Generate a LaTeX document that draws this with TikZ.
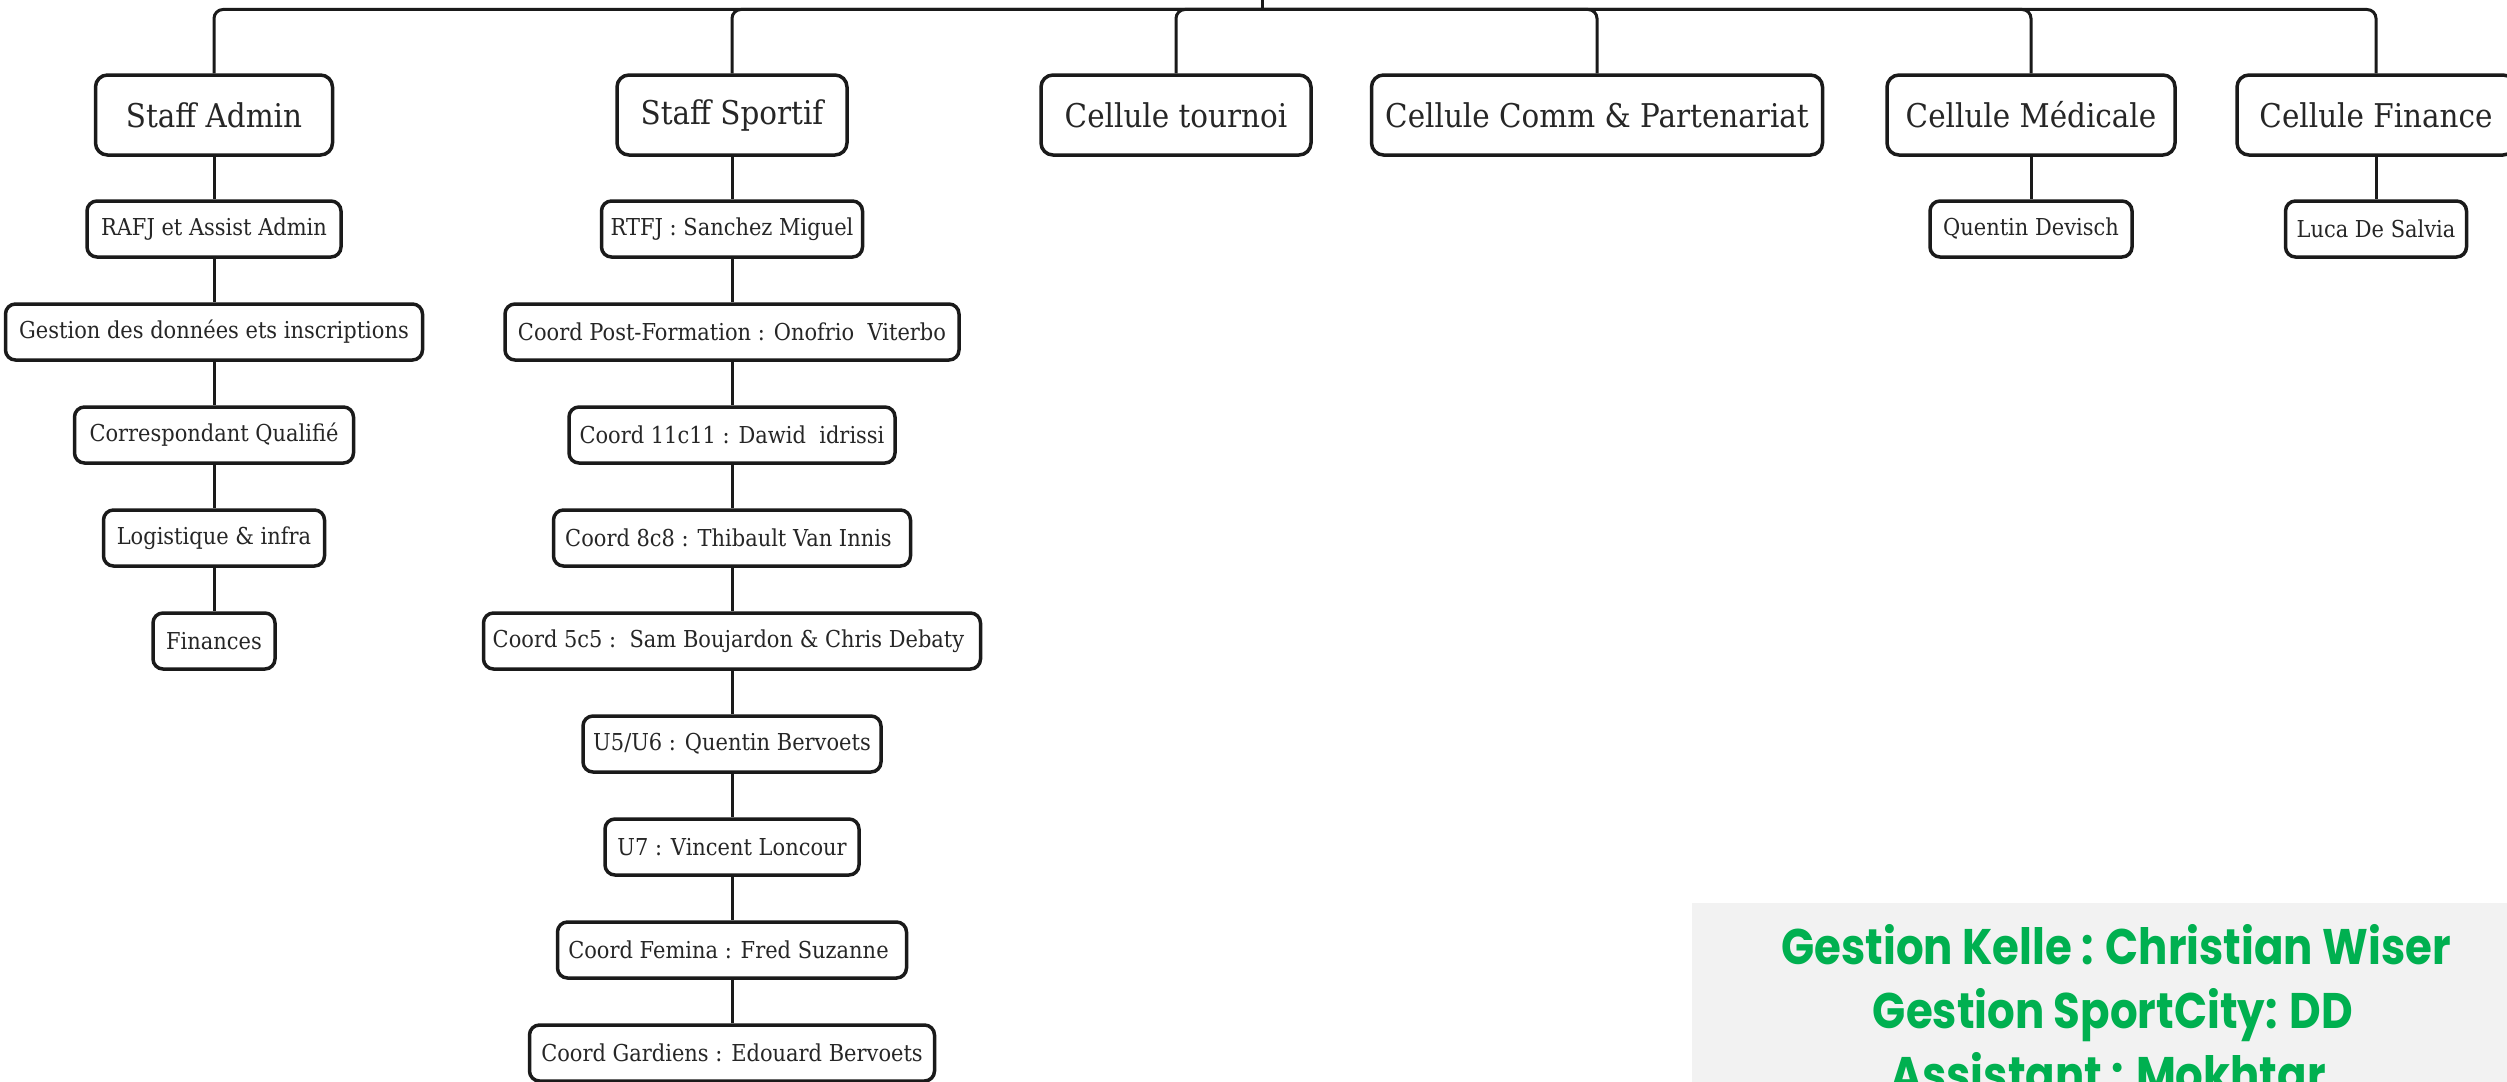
\documentclass[tikz,border=0pt]{standalone}
\usepackage{fontspec}
\setmainfont{DejaVu Serif}[FakeStretch=0.9]
\newfontfamily\greenfont{Poppins}[FakeStretch=0.87]
\definecolor{txt}{HTML}{262626}
\definecolor{grn}{HTML}{00B050}
\definecolor{panel}{HTML}{F2F2F2}
\definecolor{lnk}{HTML}{1A1A1A}
\tikzset{
  topbox/.style={draw=lnk, line width=3.5pt, rounded corners=12pt, fill=white,
    minimum height=80pt, inner xsep=4pt, inner ysep=0pt, text=txt,
    font=\fontsize{32.7}{38}\selectfont},
  subbox/.style={draw=lnk, line width=3.5pt, rounded corners=10pt, fill=white,
    minimum height=56pt, inner xsep=4pt, inner ysep=0pt, text=txt,
    font=\fontsize{23.3}{28}\selectfont},
  link/.style={draw=lnk, line width=3pt},
  greentext/.style={text=grn, font=\greenfont\bfseries\fontsize{50}{64}\selectfont,
    anchor=base, inner sep=0pt}
}
\newcommand{\trail}{\hspace{7pt}\mbox{}}
\begin{document}
\begin{tikzpicture}[x=1pt,y=-1pt]
\useasboundingbox (0,0) rectangle (2507,1081);
\clip (0,0) rectangle (2507,1081);
\fill[white] (0,0) rectangle (2507,1081);

% level 1
\node[topbox, minimum width=237pt] (sa) at (214,115) {Staff Admin};
\node[topbox, minimum width=230pt] (ss) at (732,115) {Staff Sportif};
\node[topbox, minimum width=270pt] (ct) at (1176,115) {Cellule tournoi};
\node[topbox, minimum width=451pt] (cc) at (1597,115) {Cellule Comm \& Partenariat};
\node[topbox, minimum width=288pt] (cm) at (2031,115) {Cellule Médicale};
\node[topbox, minimum width=278pt] (cf) at (2376,115) {Cellule Finance};

% Staff Admin column
\node[subbox, minimum width=254pt] (a1) at (214,229) {RAFJ et Assist Admin};
\node[subbox, minimum width=417pt] (a2) at (214,332) {Gestion des données ets inscriptions};
\node[subbox, minimum width=279pt] (a3) at (214,435) {Correspondant Qualifié};
\node[subbox, minimum width=221pt] (a4) at (214,538) {Logistique \& infra};
\node[subbox, minimum width=122pt] (a5) at (214,641) {Finances};

% Staff Sportif column
\node[subbox, minimum width=261pt] (s1) at (732,229) {RTFJ : Sanchez Miguel};
\node[subbox, minimum width=454pt] (s2) at (732,332) {Coord Post-Formation : Onofrio\ \ Viterbo};
\node[subbox, minimum width=326pt] (s3) at (732,435) {Coord 11c11 : Dawid\ \ idrissi};
\node[subbox, minimum width=357pt] (s4) at (732,538) {Coord 8c8 : Thibault Van Innis\trail};
\node[subbox, minimum width=497pt] (s5) at (732,641) {Coord 5c5 :\ \ Sam Boujardon \& Chris Debaty\trail};
\node[subbox, minimum width=298pt] (s6) at (732,744) {U5/U6 : Quentin Bervoets};
\node[subbox, minimum width=254pt] (s7) at (732,847) {U7 : Vincent Loncour};
\node[subbox, minimum width=349pt] (s8) at (732,950) {Coord Femina : Fred Suzanne\trail};
\node[subbox, minimum width=405pt] (s9) at (732,1053) {Coord Gardiens : Edouard Bervoets};

% Medical / Finance
\node[subbox, minimum width=202pt] (m1) at (2031,229) {Quentin Devisch};
\node[subbox, minimum width=181pt] (f1) at (2376,229) {Luca De Salvia};

% connectors
\coordinate (stub) at (1262,-20);
\coordinate (hub) at (1262,9.5);
\draw[link] (stub) -- (hub);
\foreach \n in {sa,ss,ct,cc,cm,cf}
  \draw[link, rounded corners=9pt] (hub) -| (\n.north);
\draw[link] (sa.south) -- (a1.north);
\draw[link] (a1.south) -- (a2.north);
\draw[link] (a2.south) -- (a3.north);
\draw[link] (a3.south) -- (a4.north);
\draw[link] (a4.south) -- (a5.north);
\draw[link] (ss.south) -- (s1.north);
\foreach \p/\c in {s1/s2,s2/s3,s3/s4,s4/s5,s5/s6,s6/s7,s7/s8,s8/s9}
  \draw[link] (\p.south) -- (\c.north);
\draw[link] (cm.south) -- (m1.north);
\draw[link] (cf.south) -- (f1.north);

% green panel
\fill[panel] (1692,903) rectangle (2520,1100);
\node[greentext] (g1) at (2116,964) {Gestion Kelle : Christian Wiser};
\node[greentext] (g2) at (2113,1028) {Gestion SportCity: DD};
\node[greentext] (g3) at (2108,1092) {Assistant : Mokhtar};
\end{tikzpicture}
\end{document}
